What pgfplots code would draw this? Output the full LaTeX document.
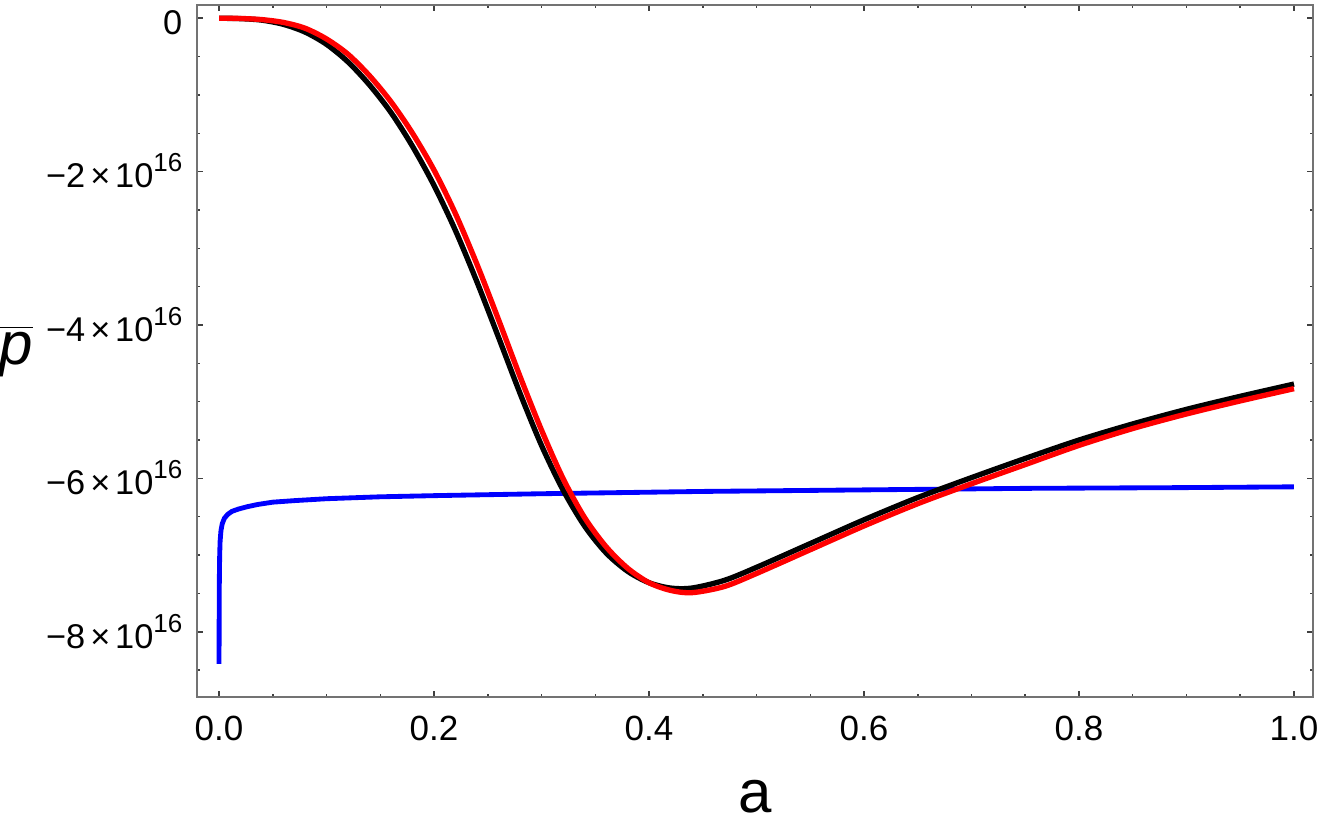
\documentclass[border=0pt]{standalone}
\usepackage{pgfplots}
\pgfplotsset{compat=1.18}
\usepackage{fontspec}
\setmainfont{Liberation Sans}
\newcommand{\sci}[1]{−#1\kern1.6pt×\kern1.4pt10\raisebox{4.8pt}{\fontsize{7.8}{9}\selectfont 16}}
\begin{document}
\begin{tikzpicture}
\begin{axis}[
  scale only axis,
  width=334.8pt, height=207.6pt,
  xmin=-0.0205, xmax=1.0177,
  ymin=-8.85e16, ymax=0.173e16,
  scaled y ticks=false, scaled x ticks=false,
  xtick={0,0.2,0.4,0.6,0.8,1.0},
  xticklabels={0.0,0.2,0.4,0.6,0.8,1.0},
  minor xtick={0.05,0.1,0.15,0.25,0.3,0.35,0.45,0.5,0.55,0.65,0.7,0.75,0.85,0.9,0.95},
  ytick={-8e16,-6e16,-4e16,-2e16,0},
  yticklabels={\sci{8},\sci{6},\sci{4},\sci{2},0},
  minor ytick={-8.5e16,-7.5e16,-7e16,-6.5e16,-5.5e16,-5e16,-4.5e16,-3.5e16,-3e16,-2.5e16,-1.5e16,-1e16,-0.5e16},
  axis line style={draw=black!55, line width=0.45pt},
  every tick/.style={black!75, line width=0.45pt},
  major tick length=1.8pt, minor tick length=1.0pt,
  tick align=inside,
  xticklabel style={font=\fontsize{10.5}{12}\selectfont, anchor=north, inner sep=0pt, yshift=-5.4pt},
  yticklabel style={font=\fontsize{10.3}{12}\selectfont, anchor=base east, inner sep=0pt, yshift=-4.9pt, xshift=-4.2pt},
  every axis x label/.style={at={(rel axis cs:0.5,0)}, anchor=base, yshift=-34.8pt, font=\fontsize{18}{20}\selectfont},
  every axis y label/.style={at={(rel axis cs:0,0.5)}, anchor=center, xshift=-54.3pt, font=\fontsize{18}{20}\selectfont},
  xlabel={a},
  ylabel={$\overline{\textit{p}}$},
  clip=true,
]
% blue
\addplot[blue, line width=1.45pt] coordinates {
(0,-8.42e16) (0.0001,-7.9e16) (0.0003,-7.3e16) (0.0006,-7.0e16) (0.001,-6.82e16)
(0.0018,-6.68e16) (0.003,-6.59e16) (0.005,-6.52e16) (0.008,-6.47e16) (0.012,-6.43e16)
(0.018,-6.40e16) (0.026,-6.37e16) (0.036,-6.34e16) (0.05,-6.31e16) (0.07,-6.29e16)
(0.1,-6.265e16) (0.15,-6.24e16) (0.2,-6.225e16) (0.3,-6.20e16) (0.45,-6.17e16)
(0.6,-6.15e16) (0.75,-6.13e16) (0.9,-6.12e16) (1.0,-6.11e16)
};
% black
\addplot[black, line width=1.6pt, smooth] coordinates {
(0,0) (0.02,-0.005e16) (0.04,-0.025e16) (0.06,-0.08e16) (0.08,-0.18e16)
(0.10,-0.34e16) (0.12,-0.57e16) (0.14,-0.87e16) (0.16,-1.23e16) (0.18,-1.67e16)
(0.20,-2.18e16) (0.22,-2.77e16) (0.24,-3.44e16) (0.26,-4.16e16) (0.28,-4.89e16)
(0.30,-5.57e16) (0.32,-6.15e16) (0.34,-6.62e16) (0.36,-6.97e16) (0.38,-7.21e16)
(0.40,-7.36e16) (0.42,-7.43e16) (0.44,-7.43e16) (0.47,-7.33e16) (0.50,-7.16e16)
(0.55,-6.85e16) (0.60,-6.54e16) (0.65,-6.25e16) (0.70,-5.99e16) (0.75,-5.74e16)
(0.80,-5.50e16) (0.85,-5.29e16) (0.90,-5.10e16) (0.95,-4.93e16) (1.0,-4.77e16)
};
% red
\addplot[red, line width=1.6pt, smooth] coordinates {
(0,0) (0.02,-0.003e16) (0.04,-0.018e16) (0.06,-0.055e16) (0.08,-0.13e16)
(0.10,-0.27e16) (0.12,-0.47e16) (0.14,-0.75e16) (0.16,-1.09e16) (0.18,-1.50e16)
(0.20,-1.98e16) (0.22,-2.55e16) (0.24,-3.21e16) (0.26,-3.93e16) (0.28,-4.67e16)
(0.30,-5.37e16) (0.32,-6.00e16) (0.34,-6.51e16) (0.36,-6.89e16) (0.38,-7.17e16)
(0.40,-7.36e16) (0.42,-7.46e16) (0.44,-7.49e16) (0.47,-7.41e16) (0.50,-7.24e16)
(0.55,-6.93e16) (0.60,-6.62e16) (0.65,-6.33e16) (0.70,-6.07e16) (0.75,-5.82e16)
(0.80,-5.57e16) (0.85,-5.35e16) (0.90,-5.16e16) (0.95,-4.99e16) (1.0,-4.83e16)
};
\end{axis}
\pgfresetboundingbox
\path[use as bounding box] ([xshift=-59.1pt,yshift=-39.9pt]current axis.south west) rectangle ([xshift=2.4pt,yshift=1.5pt]current axis.north east);
\end{tikzpicture}
\end{document}
